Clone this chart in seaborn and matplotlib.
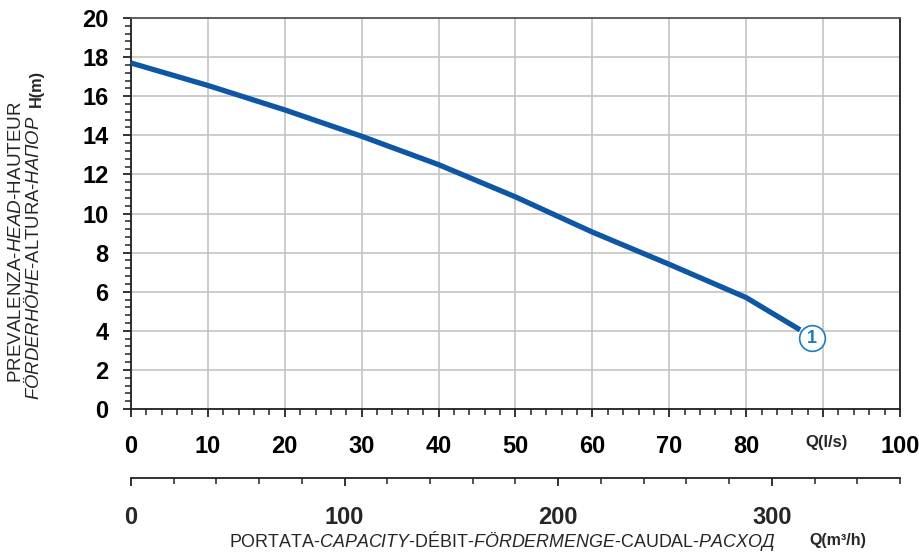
import matplotlib
matplotlib.use("Agg")
import matplotlib.pyplot as plt
import matplotlib.ticker as mticker
import seaborn as sns

# pump curve: flow (l/s) vs head (m)
flow_ls = [0, 10, 20, 30, 40, 50, 60, 70, 80, 87]
head_m = [17.7, 16.55, 15.3, 13.95, 12.5, 10.85, 9.05, 7.4, 5.7, 4.05]

# curve number badge
badge_q = [88.55]
badge_h = [3.63]
badge_label = "1"

y_ticks = [0, 2, 4, 6, 8, 10, 12, 14, 16, 18, 20]
x_ticks = [0, 10, 20, 30, 40, 50, 60, 70, 80, 90, 100]
m3h_ticks = [0, 100, 200, 300]

LINE_COLOR = "#0f56a4"
BADGE_COLOR = "#1c7cc2"
GRID_COLOR = "#c4c4c4"

W, H = 919, 554

sns.set_theme(style="white")
plt.rcParams["font.family"] = ["Liberation Sans", "DejaVu Sans"]
plt.rcParams["mathtext.fontset"] = "custom"
plt.rcParams["mathtext.rm"] = "Liberation Sans"
plt.rcParams["mathtext.it"] = "Liberation Sans:italic"
plt.rcParams["mathtext.bf"] = "Liberation Sans:bold"

fig = plt.figure(figsize=(W / 100, H / 100), dpi=100)
ax = fig.add_axes([0.1425, 0.2617, 0.8368, 0.7058])

sns.lineplot(x=flow_ls, y=head_m, ax=ax, color=LINE_COLOR, linewidth=3.8,
             solid_capstyle="butt", zorder=3)

ax.plot(badge_q, badge_h, marker="o", markersize=18.5, markerfacecolor="white",
        markeredgecolor=BADGE_COLOR, markeredgewidth=1.2, linestyle="none", zorder=4)
ax.text(badge_q[0], badge_h[0], badge_label, ha="center", va="center",
        fontsize=13, fontweight="bold", color=BADGE_COLOR, zorder=5)

ax.set_xlim(0, 100)
ax.set_ylim(0, 20)
ax.set_xticks(x_ticks)
ax.set_yticks(y_ticks)
ax.set_xticklabels([str(t) if t != 90 else "" for t in x_ticks])
ax.xaxis.set_minor_locator(mticker.MultipleLocator(2))
ax.yaxis.set_minor_locator(mticker.MultipleLocator(0.4))
ax.grid(True, which="major", color=GRID_COLOR, linewidth=1.2)
ax.set_axisbelow(True)

for side in ["left", "bottom", "top", "right"]:
    ax.spines[side].set_visible(True)
    ax.spines[side].set_color("#222222")
    ax.spines[side].set_linewidth(1.3)
ax.spines["top"].set_color("#555555")

ax.tick_params(axis="both", which="major", direction="out", length=6, width=1.3,
               color="#222222", labelsize=17, labelcolor="black")
ax.tick_params(axis="both", which="minor", direction="out", length=4, width=1.1,
               color="#222222")
ax.tick_params(axis="y", which="major", pad=10)
ax.tick_params(axis="x", which="major", pad=13)
ax.tick_params(left=True, bottom=True, which="both")
for lab in ax.get_xticklabels() + ax.get_yticklabels():
    lab.set_fontweight("bold")

# second flow scale in m3/h
sec = ax.secondary_xaxis(-0.176, functions=(lambda q: q * 3.6, lambda q: q / 3.6))
sec.set_xticks(m3h_ticks)
sec.xaxis.set_minor_locator(mticker.MultipleLocator(20))
sec.spines["bottom"].set_color("#222222")
sec.spines["bottom"].set_linewidth(1.3)
sec.tick_params(axis="x", which="major", direction="out", length=6, width=1.3,
                color="#222222", labelsize=17, pad=14)
sec.tick_params(axis="x", which="minor", direction="out", length=4, width=1.1,
                color="#222222")
for lab in sec.get_xticklabels():
    lab.set_fontweight("bold")

fig.text(827 / W, 1 - 443 / H, "Q(l/s)", ha="center", va="center",
         fontsize=12, fontweight="bold")
fig.text(838 / W, 1 - 541 / H, "Q(m³/h)", ha="center", va="center",
         fontsize=11.5, fontweight="bold")

fig.text(502 / W, 1 - 541 / H,
         r"PORTATA-$\mathit{CAPACITY}$-DÉBIT-$\mathit{FÖRDERMENGE}$-CAUDAL-$\mathit{РАСХОД}$",
         ha="center", va="center", fontsize=12.9)

# y axis title: two rotated lines plus the bold unit
fig.text(16.5 / W, 1 - 383 / H, "PREVALENZA-$\\mathit{HEAD}$-HAUTEUR",
         rotation=90, ha="center", va="bottom", fontsize=13.6)
fig.text(33.5 / W, 1 - 400 / H, "$\\mathit{FÖRDERHÖHE}$-ALTURA-$\\mathit{НАПОР}$",
         rotation=90, ha="center", va="bottom", fontsize=13.3)
fig.text(36 / W, 1 - 70 / H, "H(m)", rotation=90, ha="center", va="top",
         fontsize=11.7, fontweight="bold")

fig.savefig("out.png", dpi=100)
